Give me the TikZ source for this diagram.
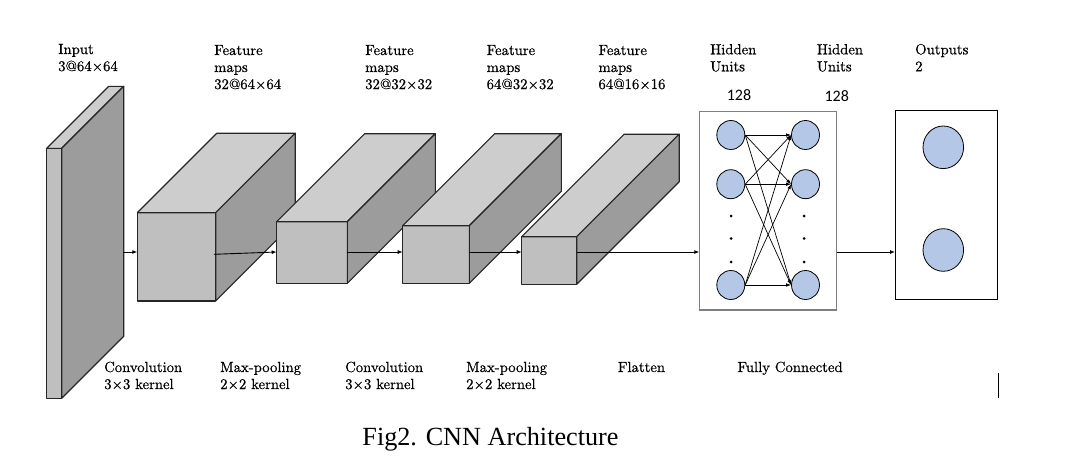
\documentclass[tikz,border=0pt]{standalone}
\usepackage{fontspec}
\newfontfamily\capfont{Liberation Serif}
\newfontfamily\numfont{Carlito}
\newfontfamily\lblfont{lmroman10-regular.otf}[FakeBold=0.5]
\usetikzlibrary{arrows.meta,shapes.geometric,calc}
\definecolor{frontc}{HTML}{BFBFBF}
\definecolor{topc}{HTML}{CDCDCD}
\definecolor{sidec}{HTML}{9C9C9C}
\definecolor{edgec}{HTML}{262626}
\definecolor{neuronc}{HTML}{B4C7E7}
\definecolor{hidc}{HTML}{7F7F7F}
\newcommand\cuboid[6]{%
  \node[frontface, minimum width=#4, minimum height=#5] (#1) at (#2,#3) {};
  \filldraw[face, fill=topc] (#1.north west) -- ++(#6,-#6) -- ($(#1.north east)+(#6,-#6)$) -- (#1.north east) -- cycle;
  \filldraw[face, fill=sidec] (#1.north east) -- ++(#6,-#6) -- ($(#1.south east)+(#6,-#6)$) -- (#1.south east) -- cycle;
}
\newcommand\lines[1]{\begin{tabular}[t]{@{}l@{}}#1\end{tabular}}
\begin{document}
\begin{tikzpicture}[x=1pt,y=-1pt,
  face/.style={draw=edgec, line width=1.1pt, line join=round},
  frontface/.style={face, fill=frontc, rectangle, inner sep=0pt, outer sep=0pt, anchor=north west},
  lbl/.style={anchor=base west, inner sep=0pt, font=\lblfont\fontsize{14.7}{17}\selectfont},
  arr/.style={-{Latex[length=5pt,width=4pt]}, line width=0.9pt},
  fc/.style={-{Latex[length=5pt,width=3.5pt]}, line width=0.7pt},
  neuron/.style={ellipse, draw=black, line width=0.8pt, fill=neuronc, inner sep=0pt},
  panel/.style={rectangle, anchor=north west, inner sep=0pt, outer sep=0pt},
  numlbl/.style={font=\numfont\fontsize{16}{19}\selectfont, anchor=base, inner sep=0pt}
]
\fill[white] (0,0) rectangle (1088,463);
\useasboundingbox (0,0) rectangle (1088,463);

% layers
\cuboid{inp}{46.7}{148.3}{15}{250}{62}
\cuboid{b1}{137.3}{212.7}{78.4}{88.3}{79.5}
\cuboid{b2}{276.7}{221.7}{70.6}{61.6}{88}
\cuboid{b3}{402.7}{225.7}{66.6}{57.6}{92}
\cuboid{b4}{521.7}{236.7}{55}{47.6}{102.5}

% hidden units panel
\node[panel, draw=hidc, line width=1.3pt, minimum width=137.4, minimum height=198.3] (hid) at (699.3,111.7) {};
\node[neuron, minimum width=28, minimum height=29] (l1) at (730.8,135) {};
\node[neuron, minimum width=28, minimum height=29] (l2) at (730.8,184.2) {};
\node[neuron, minimum width=28, minimum height=29] (l3) at (730.8,285) {};
\node[neuron, minimum width=28, minimum height=29] (r1) at (805.5,135) {};
\node[neuron, minimum width=28, minimum height=29] (r2) at (805.5,184.2) {};
\node[neuron, minimum width=28, minimum height=29] (r3) at (805.5,285) {};
\foreach \yy in {216,238.5,262}{
  \fill (731,\yy) circle (1.5);
  \fill (804,\yy) circle (1.5);
}
\foreach \a in {1,2,3}{
  \foreach \b in {1,2,3}{
    \draw[fc] (l\a.east) -- (r\b.west);
  }
}

% outputs panel
\node[panel, draw=black, line width=1pt, minimum width=102.3, minimum height=189.3] (outb) at (895,110) {};
\node[neuron, minimum width=40.6, minimum height=42.6] (o1) at (943.3,147.3) {};
\node[neuron, minimum width=40.6, minimum height=42.6] (o2) at (943.3,250) {};

% connectors
\coordinate (lvl) at (0,252);
\coordinate (inR) at (123.4,252);
\coordinate (b1out) at (214,254.3);
\draw[arr] (inR) -- (b1.west |- lvl);
\draw[arr] (b1out) -- (b2.west |- lvl);
\draw[arr] (b2.east |- lvl) -- (b3.west |- lvl);
\draw[arr] (b3.east |- lvl) -- (b4.west |- lvl);
\draw[arr] (b4.east |- lvl) -- (hid.west |- lvl);
\draw[arr] (hid.east |- lvl) -- (outb.west |- lvl);

% top labels
\node[lbl] (t0) at (58,54) {\lines{Input\\3@64×64}};
\node[lbl] (t1) at (214,55) {\lines{Feature\\maps\\32@64×64}};
\node[lbl] (t2) at (365,55) {\lines{Feature\\maps\\32@32×32}};
\node[lbl] (t3) at (486.5,55) {\lines{Feature\\maps\\64@32×32}};
\node[lbl] (t4) at (598.3,55) {\lines{Feature\\maps\\64@16×16}};
\node[lbl] (t5) at (710,54.3) {\lines{Hidden\\Units}};
\node[lbl] (t6) at (816.7,54.3) {\lines{Hidden\\Units}};
\node[lbl] (t7) at (915,54.3) {\lines{Outputs\\2}};
\node[numlbl] (n1) at (739,100) {128};
\node[numlbl] (n2) at (836.7,101.7) {128};

% bottom labels
\node[lbl] (s1) at (104,372) {\lines{Convolution\\3×3 kernel}};
\node[lbl] (s2) at (220,372) {\lines{Max-pooling\\2×2 kernel}};
\node[lbl] (s3) at (345,372) {\lines{Convolution\\3×3 kernel}};
\node[lbl] (s4) at (466,372) {\lines{Max-pooling\\2×2 kernel}};
\node[lbl] (s5) at (617.7,372) {Flatten};
\node[lbl] (s6) at (737.3,372) {Fully Connected};

\draw[line width=1.2pt] (998.3,373) -- (998.3,398);

\node[font=\capfont\fontsize{26.2}{30}\selectfont, anchor=base, inner sep=0pt] (cap) at (490.5,445) {Fig2. CNN Architecture};
\end{tikzpicture}
\end{document}
